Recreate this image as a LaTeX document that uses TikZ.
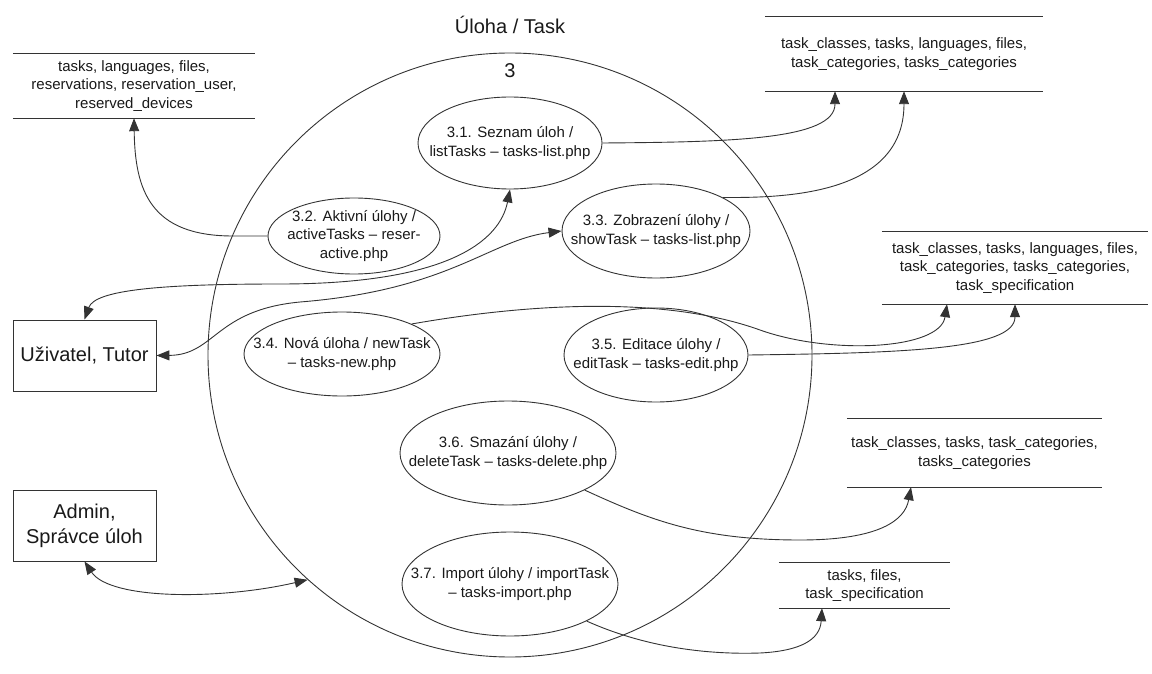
\documentclass[tikz,border=0pt]{standalone}
\usepackage{fontspec}
\setmainfont{Liberation Sans}
\usetikzlibrary{shapes.geometric,arrows.meta}

\begin{document}
\begin{tikzpicture}[x=1pt,y=-1pt,
  every node/.style={font=\fontsize{15}{18.3}\selectfont, text=black!90},
  ln/.style={line width=0.9pt, draw=black!80},
  big/.style={font=\fontsize{20}{25}\selectfont},
  procell/.style n args={2}{ellipse, ln, minimum width=#1, minimum height=#2, inner sep=0pt},
  ptext/.style={align=center, inner sep=0pt},
  entity/.style={rectangle, ln, big, align=center, minimum width=143, minimum height=71, inner sep=0pt},
  datastore/.style n args={2}{rectangle, minimum width=#1, minimum height=#2, inner sep=0pt, align=center,
    append after command={
      (\tikzlastnode.north west) edge[ln] (\tikzlastnode.north east)
      (\tikzlastnode.south west) edge[ln] (\tikzlastnode.south east)}},
  tip/.tip={Triangle[length=13pt,width=10pt]},
  arr/.style={ln, -tip},
  darr/.style={ln, tip-tip}]

\useasboundingbox (0,0) rectangle (1152,674);

% process boundary and heading
\node[big] (title) at (510,25) {Úloha / Task};
\node[circle, ln, minimum size=604, inner sep=0pt] (proc) at (510,355) {};
\node[big] (num) at (510,71) {3};

% sub-processes
\node[procell={184}{92}] (p31) at (510,143) {};
\node[ptext] (p31t) at (p31) {3.1. Seznam úloh /\\listTasks – tasks-list.php};
\node[procell={172}{76}] (p32) at (354,236) {};
\node[ptext] (p32t) at (p32) {3.2. Aktivní úlohy /\\activeTasks – reser-\\active.php};
\node[procell={188}{94}] (p33) at (656,231) {};
\node[ptext] (p33t) at (p33) {3.3. Zobrazení úlohy /\\showTask – tasks-list.php};
\node[procell={196}{84}] (p34) at (342,354) {};
\node[ptext] (p34t) at (p34) {3.4. Nová úloha / newTask\\– tasks-new.php};
\node[procell={184}{94}] (p35) at (656,355) {};
\node[ptext] (p35t) at (p35) {3.5. Editace úlohy /\\editTask – tasks-edit.php};
\node[procell={216}{104}] (p36) at (508,453) {};
\node[ptext] (p36t) at (p36) {3.6. Smazání úlohy /\\deleteTask – tasks-delete.php};
\node[procell={216}{104}] (p37) at (510,584) {};
\node[ptext] (p37t) at (p37) {3.7. Import úlohy / importTask\\– tasks-import.php};

% external entities
\node[entity] (user) at (84.5,355.5) {Uživatel, Tutor};
\node[entity] (admin) at (84.5,525.5) {Admin,\\Správce úloh};

% data stores
\node[datastore={242}{64}] (ds1) at (134,86) {tasks, languages, files,\\reservations, reservation\_user,\\reserved\_devices};
\node[datastore={278}{74}] (ds2) at (904,54) {task\_classes, tasks, languages, files,\\task\_categories, tasks\_categories};
\node[datastore={266}{72}] (ds3) at (1015,268) {task\_classes, tasks, languages, files,\\task\_categories, tasks\_categories,\\task\_specification};
\node[datastore={255}{68}] (ds4) at (974.5,453) {task\_classes, tasks, task\_categories,\\tasks\_categories};
\node[datastore={171}{45}] (ds5) at (864.5,585.5) {tasks, files,\\task\_specification};

% data flows
\draw[arr] (p32.west) -- (233,236) .. controls (150,236) and (135,190) .. (ds1.south);
\draw[arr] (p31.east) .. controls (730,142) and (835,140) .. ([xshift=-69pt]ds2.south);
\draw[arr] (p33.north east) .. controls (785,198) and (904,195) .. (ds2.south);
\draw[darr] (user.north) .. controls (95,290) and (160,284) .. (280,284)
  .. controls (450,284) and (500,240) .. (p31.south);
\draw[darr] (user.east) .. controls (215,355) and (215,310) .. (300,302)
  .. controls (450,290) and (490,240) .. (p33.west);
\draw[arr] (p34.north east) .. controls (520,305) and (660,294) .. (760,330)
  .. controls (830,355) and (940,350) .. ([xshift=-68pt]ds3.south);
\draw[arr] (p35.east) .. controls (900,353) and (1015,350) .. (ds3.south);
\draw[arr] (p36.south east) .. controls (650,520) and (700,540) .. (800,540)
  .. controls (880,540) and (905,520) .. ([xshift=-63.5pt]ds4.south);
\draw[arr] (p37.south east) .. controls (640,645) and (700,655) .. (760,653)
  .. controls (800,651) and (820,640) .. ([xshift=-42.5pt]ds5.south);
\draw[darr] (admin.south) .. controls (110,600) and (220,600) .. (proc.228);

\end{tikzpicture}
\end{document}
